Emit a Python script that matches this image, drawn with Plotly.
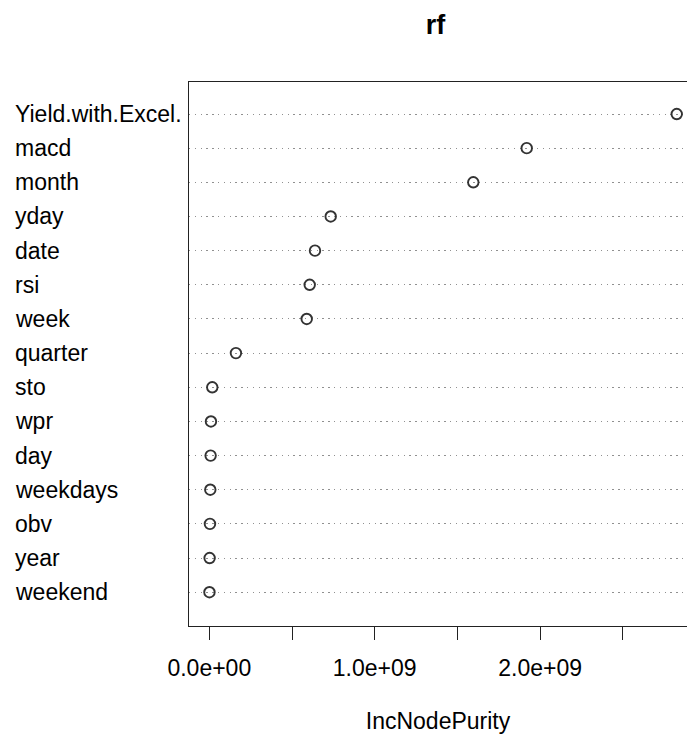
import plotly.graph_objects as go

# Variable importance (IncNodePurity), top to bottom as shown
variables = ["Yield.with.Excel.", "macd", "month", "yday", "date", "rsi", "week",
             "quarter", "sto", "wpr", "day", "weekdays", "obv", "year", "weekend"]
inc_node_purity = [2.826e9, 1.919e9, 1.596e9, 0.734e9, 0.639e9, 0.607e9, 0.589e9,
                   0.161e9, 0.018e9, 0.010e9, 0.008e9, 0.006e9, 0.004e9, 0.002e9, 0.001e9]
tick_vals = [0, 0.5e9, 1.0e9, 1.5e9, 2.0e9, 2.5e9]
tick_text = ["0.0e+00", "", "1.0e+09", "", "2.0e+09", ""]

FONT = "Liberation Sans, Arial, sans-serif"
W, H = 687, 734
L, R, T, B = 189, 0, 82, 108
FS = 23

fig = go.Figure()
fig.add_trace(go.Scatter(
    x=inc_node_purity, y=variables, mode="markers",
    marker=dict(symbol="circle-open", size=10.5, color="#333333",
                line=dict(width=1.9, color="#333333")),
    showlegend=False, hoverinfo="x+y", cliponaxis=False,
))

for v in variables:
    fig.add_annotation(
        x=(13 - L) / (W - L - R), xref="paper", y=v, yref="y",
        text=v, showarrow=False, xanchor="left", yanchor="middle",
        font=dict(family=FONT, size=FS, color="#000000"),
    )

fig.update_layout(
    width=W, height=H,
    margin=dict(l=L, r=R, t=T, b=B, pad=0),
    paper_bgcolor="white", plot_bgcolor="white",
    font=dict(family=FONT, size=FS, color="#000000"),
    title=dict(text="<b>rf</b>", x=435.5 / W, xref="container", xanchor="center",
               y=1 - 25 / H, yref="container", yanchor="middle",
               font=dict(family=FONT, size=27, color="#000000")),
)
fig.update_xaxes(
    range=[-0.1227e9, 2.888e9],
    tickvals=tick_vals, ticktext=tick_text,
    ticks="outside", ticklen=13, tickwidth=1.4, tickcolor="#222222",
    ticklabelstandoff=8,
    showline=True, linecolor="#222222", linewidth=1.4, mirror=True,
    showgrid=False, zeroline=False,
    tickfont=dict(family=FONT, size=FS, color="#000000"),
    title=dict(text="IncNodePurity", standoff=36,
               font=dict(family=FONT, size=FS, color="#000000")),
)
fig.update_yaxes(
    type="category", categoryorder="array", categoryarray=variables[::-1],
    range=[-0.989, 14.937],
    showticklabels=False, ticks="",
    showline=True, linecolor="#222222", linewidth=1.4,
    showgrid=True, gridcolor="#909090", gridwidth=1.2, griddash="1.3px,4.5px",
    zeroline=False,
)

fig.write_html(
    "out.html",
    config={"displayModeBar": False},
    post_script="document.body.style.margin='0';document.body.style.overflow='hidden';",
)
